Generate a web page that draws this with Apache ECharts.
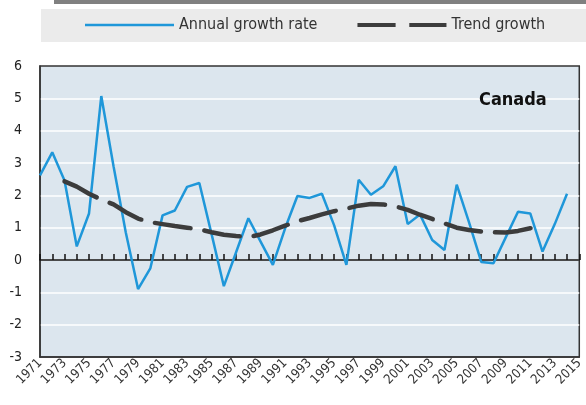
<!DOCTYPE html>
<html>
<head>
<meta charset="utf-8">
<script src="https://cdn.jsdelivr.net/npm/echarts@6/dist/echarts.min.js"></script>
<style>
  html, body { margin: 0; padding: 0; background: #fff; }
  #chart { width: 586px; height: 405px; }
</style>
</head>
<body>
<div id="chart"></div>
<script>
const years = ['1971','1972','1973','1974','1975','1976','1977','1978','1979','1980',
  '1981','1982','1983','1984','1985','1986','1987','1988','1989','1990',
  '1991','1992','1993','1994','1995','1996','1997','1998','1999','2000',
  '2001','2002','2003','2004','2005','2006','2007','2008','2009','2010',
  '2011','2012','2013','2014','2015'];

// annual growth rate, %
const annualGrowth = [2.62, 3.33, 2.46, 0.42, 1.44, 5.07, 2.9, 0.85, -0.9, -0.26,
  1.38, 1.53, 2.26, 2.38, 0.8, -0.81, 0.24, 1.29, 0.57, -0.15,
  0.98, 1.98, 1.92, 2.05, 1.07, -0.15, 2.48, 2.02, 2.28, 2.9,
  1.11, 1.41, 0.62, 0.31, 2.33, 1.17, -0.06, -0.1, 0.7, 1.49,
  1.44, 0.26, 1.11, 2.05, null];

// trend growth, %
const trendGrowth = [null, null, 2.43, 2.27, 2.05, 1.87, 1.72, 1.48, 1.28, 1.17,
  1.11, 1.05, 1.0, 0.95, 0.86, 0.78, 0.74, 0.71, 0.79, 0.92,
  1.06, 1.2, 1.3, 1.41, 1.51, 1.59, 1.68, 1.73, 1.72, 1.66,
  1.55, 1.4, 1.27, 1.13, 1.0, 0.93, 0.88, 0.86, 0.85, 0.9,
  0.98, 1.1, null, null, null];

const font = '"Liberation Sans Narrow", "DejaVu Sans Condensed", sans-serif';

const chart = echarts.init(document.getElementById('chart'), null, { renderer: 'canvas' });

chart.setOption({
  animation: false,
  graphic: [
    { type: 'rect', shape: { x: 54, y: 0, width: 532, height: 4 }, style: { fill: '#808080' } },
    { type: 'rect', z: -1, shape: { x: 41, y: 9, width: 545, height: 33 }, style: { fill: '#ebebeb' } }
  ],
  title: {
    text: 'Canada',
    left: 474,
    top: 86,
    textStyle: { fontFamily: font, fontSize: 18, fontWeight: 'bold', color: '#111' }
  },
  legend: {
    left: 85,
    top: 17,
    padding: 0,
    itemWidth: 89,
    itemHeight: 4,
    itemGap: 40,
    itemStyle: { borderWidth: 0 },
    textStyle: { fontFamily: font, fontSize: 16, color: '#333' },
    data: [
      // thin line sample; the hairline keeps the box 4px tall
      { name: 'Annual growth rate', icon: 'path://M0,0.7h89v2.6h-89zM0,0h0.01v4h-0.01z' },
      { name: 'Trend growth', icon: 'path://M0,0h39v4h-39zM53,0h38v4h-38z' }
    ]
  },
  grid: {
    left: 40,
    right: 2,
    top: 66,
    bottom: 48,
    show: true,
    backgroundColor: '#dce6ee',
    borderColor: '#333',
    borderWidth: 1.5
  },
  xAxis: [
    {
      type: 'category',
      data: years,
      boundaryGap: false,
      position: 'bottom',
      axisLine: { onZero: false, lineStyle: { color: '#333', width: 1.5 } },
      axisTick: { show: false },
      axisLabel: {
        interval: 1,
        rotate: 45,
        fontFamily: font,
        fontSize: 13,
        color: '#333',
        margin: 4
      },
      splitLine: { show: false }
    },
    {
      // zero line with small year ticks pointing up
      type: 'category',
      data: years,
      boundaryGap: false,
      position: 'top',
      axisLine: { onZero: true, lineStyle: { color: '#111', width: 1.5 } },
      axisTick: { show: true, inside: false, length: 6, interval: 0, lineStyle: { color: '#111', width: 1.5 } },
      axisLabel: { show: false },
      splitLine: { show: false }
    }
  ],
  yAxis: {
    type: 'value',
    min: -3,
    max: 6,
    interval: 1,
    axisLine: { show: true, onZero: false, lineStyle: { color: '#333', width: 1.5 } },
    axisTick: { show: false },
    axisLabel: { fontFamily: font, fontSize: 14, color: '#222', margin: 18 },
    splitLine: { showMinLine: false, showMaxLine: false, lineStyle: { color: '#fff', width: 1.5 } }
  },
  series: [
    {
      name: 'Annual growth rate',
      type: 'line',
      data: annualGrowth,
      symbol: 'none',
      color: '#1f97d9',
      lineStyle: { color: '#1f97d9', width: 2.5 },
      z: 3
    },
    {
      name: 'Trend growth',
      type: 'line',
      data: trendGrowth,
      symbol: 'none',
      color: '#3c3c3c',
      lineStyle: { color: '#3c3c3c', width: 4.5, type: [36, 14], cap: 'round' },
      z: 4
    }
  ]
});
</script>
</body>
</html>
